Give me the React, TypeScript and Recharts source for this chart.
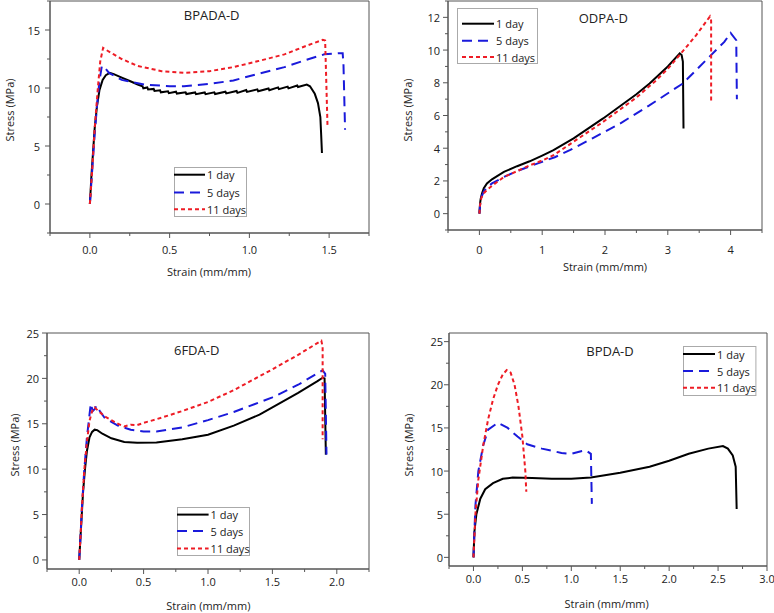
import React from 'react';
import { LineChart, Line, XAxis, YAxis, ReferenceArea } from 'recharts';

// ---------- Series labels ----------
const seriesNames = ['1 day', '5 days', '11 days'];

// ---------- BPADA-D ----------
const bpada1Strain = [0, 0.01, 0.02, 0.03, 0.045, 0.06, 0.08, 0.1, 0.125, 0.15, 0.2, 0.25, 0.3, 0.33, 0.335, 0.36, 0.365, 0.4, 0.405, 0.44, 0.445, 0.49, 0.495, 0.54, 0.545, 0.6, 0.605, 0.66, 0.665, 0.72, 0.725, 0.78, 0.785, 0.85, 0.855, 0.92, 0.925, 0.98, 0.985, 1.05, 1.055, 1.12, 1.125, 1.18, 1.185, 1.24, 1.245, 1.3, 1.305, 1.36, 1.38, 1.41, 1.43, 1.445, 1.45, 1.455];
const bpada1Stress = [0, 2.5, 4.5, 6.5, 8.5, 9.8, 10.7, 11.1, 11.3, 11.2, 10.9, 10.6, 10.3, 10.15, 9.97, 10.05, 9.87, 9.92, 9.75, 9.8, 9.63, 9.72, 9.55, 9.68, 9.52, 9.63, 9.48, 9.62, 9.47, 9.62, 9.47, 9.63, 9.48, 9.68, 9.53, 9.74, 9.58, 9.82, 9.66, 9.88, 9.72, 9.96, 9.8, 10.05, 9.9, 10.12, 9.97, 10.22, 10.08, 10.3, 10.15, 9.5, 8.7, 7.5, 6.0, 4.4];
const bpada5Strain = [0, 0.015, 0.03, 0.045, 0.06, 0.075, 0.09, 0.12, 0.2, 0.34, 0.5, 0.59, 0.75, 0.9, 1.05, 1.22, 1.35, 1.47, 1.56, 1.585, 1.59, 1.6];
const bpada5Stress = [0, 3, 6, 8.5, 10.6, 11.9, 11.8, 11.3, 10.7, 10.3, 10.15, 10.15, 10.35, 10.65, 11.2, 11.8, 12.4, 12.9, 13.0, 13.0, 12.0, 6.4];
const bpada11Strain = [0, 0.015, 0.03, 0.05, 0.065, 0.083, 0.1, 0.15, 0.2, 0.3, 0.45, 0.59, 0.75, 0.9, 1.05, 1.22, 1.35, 1.46, 1.475, 1.49];
const bpada11Stress = [0, 3, 6.5, 10, 12.3, 13.45, 13.3, 12.9, 12.5, 11.9, 11.45, 11.3, 11.45, 11.8, 12.3, 12.9, 13.6, 14.15, 14.1, 6.65];

// ---------- ODPA-D ----------
const odpa1Strain = [0, 0.01, 0.02, 0.04, 0.07, 0.12, 0.2, 0.39, 0.6, 0.8, 1.0, 1.18, 1.5, 1.97, 2.5, 2.71, 3.0, 3.19, 3.22, 3.24, 3.25];
const odpa1Stress = [0, 0.6, 0.9, 1.22, 1.55, 1.84, 2.1, 2.55, 2.9, 3.2, 3.55, 3.88, 4.6, 5.82, 7.3, 7.96, 9.0, 9.8, 9.7, 9.3, 5.2];
const odpa5Strain = [0, 0.01, 0.03, 0.07, 0.12, 0.2, 0.39, 0.6, 0.92, 1.2, 1.44, 1.8, 2.24, 2.7, 3.24, 3.61, 3.9, 4.0, 4.09, 4.1];
const odpa5Stress = [0, 0.5, 1.0, 1.35, 1.6, 1.85, 2.24, 2.6, 3.06, 3.45, 3.88, 4.6, 5.51, 6.6, 7.96, 9.39, 10.5, 11.05, 10.6, 7.0];
const odpa11Strain = [0, 0.01, 0.03, 0.07, 0.12, 0.2, 0.39, 0.6, 0.8, 1.0, 1.18, 1.5, 1.97, 2.5, 2.8, 3.0, 3.2, 3.45, 3.67, 3.69, 3.69];
const odpa11Stress = [0, 0.5, 0.95, 1.25, 1.45, 1.7, 2.24, 2.6, 2.95, 3.25, 3.57, 4.4, 5.61, 7.1, 8.1, 8.85, 9.75, 10.9, 12.05, 11.8, 6.83];

// ---------- 6FDA-D ----------
const fda1Strain = [0, 0.01, 0.02, 0.03, 0.045, 0.06, 0.08, 0.1, 0.12, 0.14, 0.18, 0.25, 0.35, 0.45, 0.6, 0.8, 1.0, 1.2, 1.4, 1.5, 1.7, 1.85, 1.89, 1.905, 1.915];
const fda1Stress = [0, 2.5, 5, 7.5, 10, 12, 13.5, 14.1, 14.35, 14.3, 13.9, 13.4, 13.0, 12.9, 12.95, 13.3, 13.8, 14.8, 16.0, 16.8, 18.4, 19.7, 20.07, 20.0, 11.6];
const fda5Strain = [0, 0.01, 0.02, 0.04, 0.06, 0.08, 0.09, 0.105, 0.12, 0.135, 0.16, 0.2, 0.3, 0.4, 0.5, 0.6, 0.8, 1.0, 1.2, 1.5, 1.7, 1.89, 1.91, 1.92];
const fda5Stress = [0, 2.5, 5.5, 10, 13.5, 16, 17.2, 16.4, 16.6, 17.0, 16.4, 15.6, 14.8, 14.35, 14.15, 14.15, 14.6, 15.4, 16.3, 17.9, 19.3, 20.9, 20.5, 11.6];
const fda11Strain = [0, 0.01, 0.02, 0.04, 0.06, 0.08, 0.1, 0.12, 0.15, 0.2, 0.25, 0.3, 0.35, 0.4, 0.45, 0.5, 0.6, 0.8, 1.0, 1.2, 1.5, 1.7, 1.88, 1.89, 1.89];
const fda11Stress = [0, 2.5, 5.5, 10, 13, 15.3, 16.4, 16.8, 16.4, 15.8, 15.4, 15.0, 14.7, 14.9, 14.85, 15.1, 15.5, 16.4, 17.4, 18.7, 21.0, 22.6, 24.15, 23.5, 13.3];

// ---------- BPDA-D ----------
const bpda1Strain = [0, 0.01, 0.03, 0.07, 0.12, 0.2, 0.3, 0.4, 0.6, 0.8, 1.0, 1.2, 1.5, 1.8, 2.0, 2.2, 2.4, 2.55, 2.6, 2.65, 2.68, 2.69];
const bpda1Stress = [0, 3, 5, 6.8, 7.9, 8.6, 9.1, 9.25, 9.2, 9.1, 9.1, 9.25, 9.8, 10.5, 11.2, 12.0, 12.6, 12.9, 12.6, 11.8, 10.5, 5.6];
const bpda5Strain = [0, 0.02, 0.05, 0.1, 0.15, 0.25, 0.35, 0.45, 0.55, 0.7, 0.9, 1.0, 1.1, 1.15, 1.2, 1.21];
const bpda5Stress = [0, 6, 10, 13, 14.8, 15.6, 15.0, 14.0, 13.1, 12.6, 12.1, 12.0, 12.3, 12.4, 12.0, 6.2];
const bpda11Strain = [0, 0.02, 0.05, 0.1, 0.15, 0.2, 0.25, 0.3, 0.34, 0.38, 0.42, 0.46, 0.5, 0.53, 0.54];
const bpda11Stress = [0, 5, 9, 13, 16, 18.3, 20, 21.2, 21.7, 21.4, 20, 17.5, 14, 10, 7.6];

// ---------- Tick values ----------
const bpadaXTicks = [-0.25, 0, 0.25, 0.5, 0.75, 1, 1.25, 1.5, 1.75];
const bpadaXMajor = [0, 0.5, 1, 1.5];
const bpadaYTicks = [-2.5, 0, 2.5, 5, 7.5, 10, 12.5, 15, 17.5];
const bpadaYMajor = [0, 5, 10, 15];

const odpaXTicks = [-0.5, 0, 0.5, 1, 1.5, 2, 2.5, 3, 3.5, 4, 4.5];
const odpaXMajor = [0, 1, 2, 3, 4];
const odpaYTicks = [-1, 0, 1, 2, 3, 4, 5, 6, 7, 8, 9, 10, 11, 12, 13];
const odpaYMajor = [0, 2, 4, 6, 8, 10, 12];

const fdaXTicks = [-0.25, 0, 0.25, 0.5, 0.75, 1, 1.25, 1.5, 1.75, 2, 2.25];
const fdaXMajor = [0, 0.5, 1, 1.5, 2];
const fdaYTicks = [0, 2.5, 5, 7.5, 10, 12.5, 15, 17.5, 20, 22.5, 25];
const fdaYMajor = [0, 5, 10, 15, 20, 25];

const bpdaXTicks = [-0.25, 0, 0.25, 0.5, 0.75, 1, 1.25, 1.5, 1.75, 2, 2.25, 2.5, 2.75, 3];
const bpdaXMajor = [0, 0.5, 1, 1.5, 2, 2.5, 3];
const bpdaYTicks = [0, 2.5, 5, 7.5, 10, 12.5, 15, 17.5, 20, 22.5, 25];
const bpdaYMajor = [0, 5, 10, 15, 20, 25];

// ---------- helpers ----------
const zip = (xs: number[], ys: number[]) => xs.map((x, i) => ({ x, y: ys[i] }));

const FONT = '"Open Sans", Lato, sans-serif';
const AXIS = '#555';
const TEXT = '#222';

const STYLES = [
  { stroke: '#000000', dash: undefined as string | undefined },
  { stroke: '#1a1adb', dash: '10 6' },
  { stroke: '#ee1c25', dash: '4 3' },
];

const isIn = (arr: number[], v: number) => arr.some((m) => Math.abs(m - v) < 1e-9);

function makeXTick(majors: number[], fmt: (v: number) => string, labelOff: number) {
  return (props: any) => {
    const { x, y, payload } = props;
    const v = payload.value;
    const major = isIn(majors, v);
    return (
      <g>
        <line x1={x} x2={x} y1={y} y2={y + (major ? 5 : 3)} stroke={AXIS} strokeWidth={1} />
        {major && (
          <text x={x} y={y + labelOff} textAnchor="middle" dominantBaseline="central" fontFamily={FONT} fontSize={11} fill={TEXT}>
            {fmt(v)}
          </text>
        )}
      </g>
    );
  };
}

function makeYTick(majors: number[], fmt: (v: number) => string, labelOff: number) {
  return (props: any) => {
    const { x, y, payload } = props;
    const v = payload.value;
    const major = isIn(majors, v);
    return (
      <g>
        <line x1={x} x2={x - (major ? 5 : 3)} y1={y} y2={y} stroke={AXIS} strokeWidth={1} />
        {major && (
          <text x={x - labelOff} y={y} textAnchor="end" dominantBaseline="central" fontFamily={FONT} fontSize={11} fill={TEXT}>
            {fmt(v)}
          </text>
        )}
      </g>
    );
  };
}

type PanelProps = {
  left: number; top: number; width: number; height: number;
  margin: { top: number; right: number; bottom: number; left: number };
  yWidth: number; xHeight: number;
  xDomain: [number, number]; yDomain: [number, number];
  xTicks: number[]; xMajor: number[]; yTicks: number[]; yMajor: number[];
  xFmt: (v: number) => string; yFmt: (v: number) => string;
  xLabelOff: number; yLabelOff: number;
  series: { x: number; y: number }[][];
  title: string; titlePos: [number, number];
  yLabelPos: [number, number]; xLabelPos: [number, number];
  legend: { left: number; top: number; width: number; height: number; lineStart: number; lineLen: number; rows: number[] };
};

function Panel(p: PanelProps) {
  const lg = p.legend;
  return (
    <>
      <div style={{ position: 'absolute', left: p.left, top: p.top }}>
        <LineChart width={p.width} height={p.height} margin={p.margin}>
          <XAxis
            type="number"
            dataKey="x"
            domain={p.xDomain}
            allowDataOverflow
            ticks={p.xTicks}
            interval={0}
            tickSize={0}
            tickMargin={0}
            height={p.xHeight}
            stroke={AXIS}
            tickLine={false}
            tick={makeXTick(p.xMajor, p.xFmt, p.xLabelOff)}
          />
          <YAxis
            type="number"
            dataKey="y"
            domain={p.yDomain}
            allowDataOverflow
            ticks={p.yTicks}
            interval={0}
            tickSize={0}
            tickMargin={0}
            width={p.yWidth}
            stroke={AXIS}
            tickLine={false}
            tick={makeYTick(p.yMajor, p.yFmt, p.yLabelOff)}
          />
          <ReferenceArea
            x1={p.xDomain[0]}
            x2={p.xDomain[1]}
            y1={p.yDomain[0]}
            y2={p.yDomain[1]}
            fill="none"
            fillOpacity={0}
            stroke={AXIS}
            strokeWidth={1}
            ifOverflow="visible"
          />
          {p.series.map((d, i) => (
            <Line
              key={i}
              data={d}
              dataKey="y"
              name={seriesNames[i]}
              type="linear"
              dot={false}
              activeDot={false}
              stroke={STYLES[i].stroke}
              strokeDasharray={STYLES[i].dash}
              strokeWidth={2}
              isAnimationActive={false}
            />
          ))}
        </LineChart>
      </div>
      <div
        style={{
          position: 'absolute', left: p.titlePos[0], top: p.titlePos[1], transform: 'translate(-50%, -50%)',
          fontFamily: FONT, fontSize: 13, color: TEXT, whiteSpace: 'nowrap',
        }}
      >
        {p.title}
      </div>
      <div
        style={{
          position: 'absolute', left: p.yLabelPos[0], top: p.yLabelPos[1], transform: 'translate(-50%, -50%) rotate(-90deg)',
          fontFamily: FONT, fontSize: 11, color: TEXT, whiteSpace: 'nowrap',
        }}
      >
        Stress (MPa)
      </div>
      <div
        style={{
          position: 'absolute', left: p.xLabelPos[0], top: p.xLabelPos[1], transform: 'translate(-50%, -50%)',
          fontFamily: FONT, fontSize: 11, color: TEXT, whiteSpace: 'nowrap',
        }}
      >
        Strain (mm/mm)
      </div>
      <svg
        style={{ position: 'absolute', left: lg.left, top: lg.top, overflow: 'visible' }}
        width={lg.width}
        height={lg.height}
      >
        <rect x={0.5} y={0.5} width={lg.width - 1} height={lg.height - 1} fill="#fff" stroke="#aaa" strokeWidth={1} />
        {seriesNames.map((n, i) => (
          <g key={n}>
            <line
              x1={lg.lineStart}
              x2={lg.lineStart + lg.lineLen}
              y1={lg.rows[i]}
              y2={lg.rows[i]}
              stroke={STYLES[i].stroke}
              strokeDasharray={STYLES[i].dash}
              strokeWidth={2}
            />
            <text x={lg.lineStart + lg.lineLen + 2} y={lg.rows[i]} dominantBaseline="central" fontFamily={FONT} fontSize={11} fill={TEXT}>
              {n}
            </text>
          </g>
        ))}
      </svg>
    </>
  );
}

const f1 = (v: number) => v.toFixed(1);
const f0 = (v: number) => String(v);

export default function App() {
  return (
    <div style={{ position: 'absolute', left: 0, top: 0, width: 774, height: 613, background: '#fff', overflow: 'hidden' }}>
      <Panel
        left={0} top={0} width={380} height={290}
        margin={{ top: 1, right: 11, bottom: 0, left: 0 }}
        yWidth={50} xHeight={57}
        xDomain={[-0.25, 1.75]} yDomain={[-2.5, 17.5]}
        xTicks={bpadaXTicks} xMajor={bpadaXMajor} yTicks={bpadaYTicks} yMajor={bpadaYMajor}
        xFmt={f1} yFmt={f0} xLabelOff={16} yLabelOff={10}
        series={[zip(bpada1Strain, bpada1Stress), zip(bpada5Strain, bpada5Stress), zip(bpada11Strain, bpada11Stress)]}
        title="BPADA-D" titlePos={[211.7, 15]}
        yLabelPos={[9, 110]} xLabelPos={[209, 270.7]}
        legend={{ left: 174, top: 166.7, width: 73, height: 50, lineStart: 0, lineLen: 31, rows: [7.7, 25.6, 42.3] }}
      />
      <Panel
        left={390} top={0} width={384} height={290}
        margin={{ top: 1, right: 12, bottom: 0, left: 0 }}
        yWidth={58} xHeight={60}
        xDomain={[-0.5, 4.5]} yDomain={[-1, 13]}
        xTicks={odpaXTicks} xMajor={odpaXMajor} yTicks={odpaYTicks} yMajor={odpaYMajor}
        xFmt={f0} yFmt={f0} xLabelOff={19} yLabelOff={8}
        series={[zip(odpa1Strain, odpa1Stress), zip(odpa5Strain, odpa5Stress), zip(odpa11Strain, odpa11Stress)]}
        title="ODPA-D" titlePos={[603.3, 18.3]}
        yLabelPos={[407, 110]} xLabelPos={[605, 266]}
        legend={{ left: 456.5, top: 8.3, width: 81, height: 56, lineStart: 5, lineLen: 32, rows: [15.7, 32.7, 49] }}
      />
      <Panel
        left={0} top={300} width={380} height={313}
        margin={{ top: 33, right: 11, bottom: 0, left: 0 }}
        yWidth={47} xHeight={44}
        xDomain={[-0.25, 2.25]} yDomain={[-1, 25]}
        xTicks={fdaXTicks} xMajor={fdaXMajor} yTicks={fdaYTicks} yMajor={fdaYMajor}
        xFmt={f1} yFmt={f0} xLabelOff={12} yLabelOff={8}
        series={[zip(fda1Strain, fda1Stress), zip(fda5Strain, fda5Stress), zip(fda11Strain, fda11Stress)]}
        title="6FDA-D" titlePos={[196.7, 350]}
        yLabelPos={[14, 445]} xLabelPos={[208.3, 605]}
        legend={{ left: 176.7, top: 506.7, width: 73, height: 49, lineStart: 0, lineLen: 31.6, rows: [7.6, 24, 41.6] }}
      />
      <Panel
        left={390} top={300} width={384} height={313}
        margin={{ top: 33, right: 7, bottom: 0, left: 0 }}
        yWidth={59} xHeight={47}
        xDomain={[-0.25, 3.0]} yDomain={[-1, 26]}
        xTicks={bpdaXTicks} xMajor={bpdaXMajor} yTicks={bpdaYTicks} yMajor={bpdaYMajor}
        xFmt={f1} yFmt={f0} xLabelOff={12} yLabelOff={6}
        series={[zip(bpda1Strain, bpda1Stress), zip(bpda5Strain, bpda5Stress), zip(bpda11Strain, bpda11Stress)]}
        title="BPDA-D" titlePos={[610, 350.7]}
        yLabelPos={[408.3, 445]} xLabelPos={[606.7, 602.7]}
        legend={{ left: 683.3, top: 346, width: 73.4, height: 50, lineStart: 0, lineLen: 32, rows: [8, 25, 41.7] }}
      />
    </div>
  );
}
